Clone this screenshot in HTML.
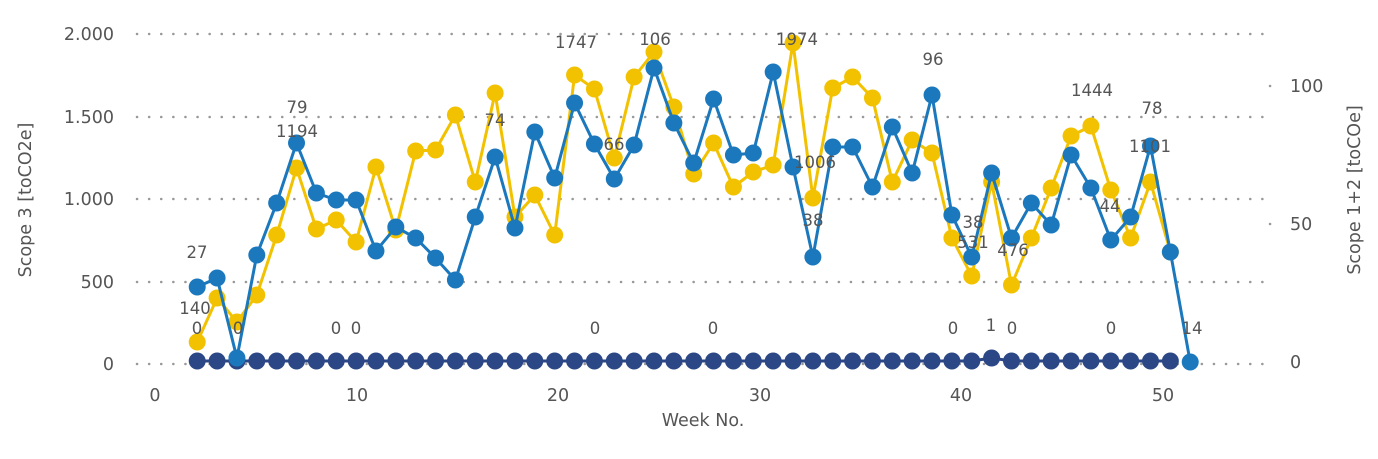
<!DOCTYPE html>
<html><head><meta charset="utf-8"><style>
body{margin:0;background:#fff}
svg text{font-family:"DejaVu Sans","Liberation Sans",sans-serif;fill:#555}
</style></head><body>
<svg width="1378" height="454" viewBox="0 0 1378 454" xmlns="http://www.w3.org/2000/svg">
<g stroke="#999" stroke-width="2.5" stroke-dasharray="0.1 12" stroke-linecap="round">
<line x1="137" y1="34" x2="1265" y2="34"/>
<line x1="137" y1="117" x2="1265" y2="117"/>
<line x1="137" y1="199" x2="1265" y2="199"/>
<line x1="137" y1="282" x2="1265" y2="282"/>
<line x1="137" y1="364" x2="1265" y2="364"/>
<line x1="1270" y1="86" x2="1272" y2="86"/>
<line x1="1270" y1="224" x2="1272" y2="224"/>
</g>
<g font-size="17.5" text-anchor="end">
<text x="114" y="40">2.000</text><text x="114" y="123">1.500</text><text x="114" y="205">1.000</text><text x="114" y="288">500</text><text x="114" y="370">0</text>
</g>
<g font-size="17.5" text-anchor="start">
<text x="1290" y="92">100</text><text x="1290" y="230">50</text><text x="1290" y="368">0</text>
</g>
<g font-size="17.5" text-anchor="middle">
<text x="155" y="401">0</text><text x="357" y="401">10</text><text x="558" y="401">20</text><text x="760" y="401">30</text><text x="961" y="401">40</text><text x="1163" y="401">50</text>
<text x="703" y="426">Week No.</text>
<text transform="translate(31,200) rotate(-90)">Scope 3 [toCO2e]</text>
<text transform="translate(1360,190) rotate(-90)">Scope 1+2 [toCOe]</text>
</g>
<g id="s"></g>
<g font-size="16.5" text-anchor="middle" fill="#444">
<text x="197" y="258">27</text><text x="195" y="314">140</text><text x="197" y="334">0</text><text x="238" y="334">0</text>
<text x="297" y="113">79</text><text x="297" y="137">1194</text><text x="336" y="334">0</text><text x="356" y="334">0</text>
<text x="495" y="126">74</text><text x="576" y="48">1747</text><text x="595" y="334">0</text><text x="614" y="150">66</text>
<text x="655" y="45">106</text><text x="713" y="334">0</text><text x="797" y="45">1974</text><text x="815" y="168">1006</text>
<text x="813" y="226">38</text><text x="933" y="65">96</text><text x="953" y="334">0</text><text x="973" y="228">38</text>
<text x="973" y="248">531</text><text x="991" y="331">1</text><text x="1012" y="334">0</text><text x="1013" y="256">476</text>
<text x="1092" y="96">1444</text><text x="1152" y="114">78</text><text x="1150" y="152">1101</text><text x="1110" y="212">44</text>
<text x="1111" y="334">0</text><text x="1192" y="334">14</text>
</g>
<script>
var Y=[342,298,322,295,235,168,229,220,242,167,230,151,150,115,182,93,217,195,235,75,89,158,77,52,107,174,143,187,172,165,43,198,88,77,98,182,140,153,238,276,182,285,238,188,136,126,190,238,182,252];
var B=[287,278,358,255,203,143,193,200,200,251,227,238,258,280,217,157,228,132,178,103,144,179,145,68,123,163,99,155,153,72,167,257,147,147,187,127,173,95,215,257,173,238,203,225,155,188,240,217,146,252,362];
function X(w){return 157.5+19.86*w}
var ns="http://www.w3.org/2000/svg",g=document.getElementById('s');
function ser(arr,col,start){var p="";arr.forEach(function(y,i){p+=(i?"L":"M")+X(start+i).toFixed(1)+" "+y});
var l=document.createElementNS(ns,"path");l.setAttribute("d",p);l.setAttribute("stroke",col);l.setAttribute("stroke-width","3");l.setAttribute("fill","none");g.appendChild(l);
arr.forEach(function(y,i){var c=document.createElementNS(ns,"circle");c.setAttribute("cx",X(start+i));c.setAttribute("cy",y);c.setAttribute("r","8.5");c.setAttribute("fill",col);g.appendChild(c)});}
var N=[];for(var w=2;w<=51;w++)N.push(w==42?358:361);
ser(N,"#2c4785",2);
ser(Y,"#f2c200",2);
ser(B,"#1b78bd",2);
</script>
</svg>
</body></html>
